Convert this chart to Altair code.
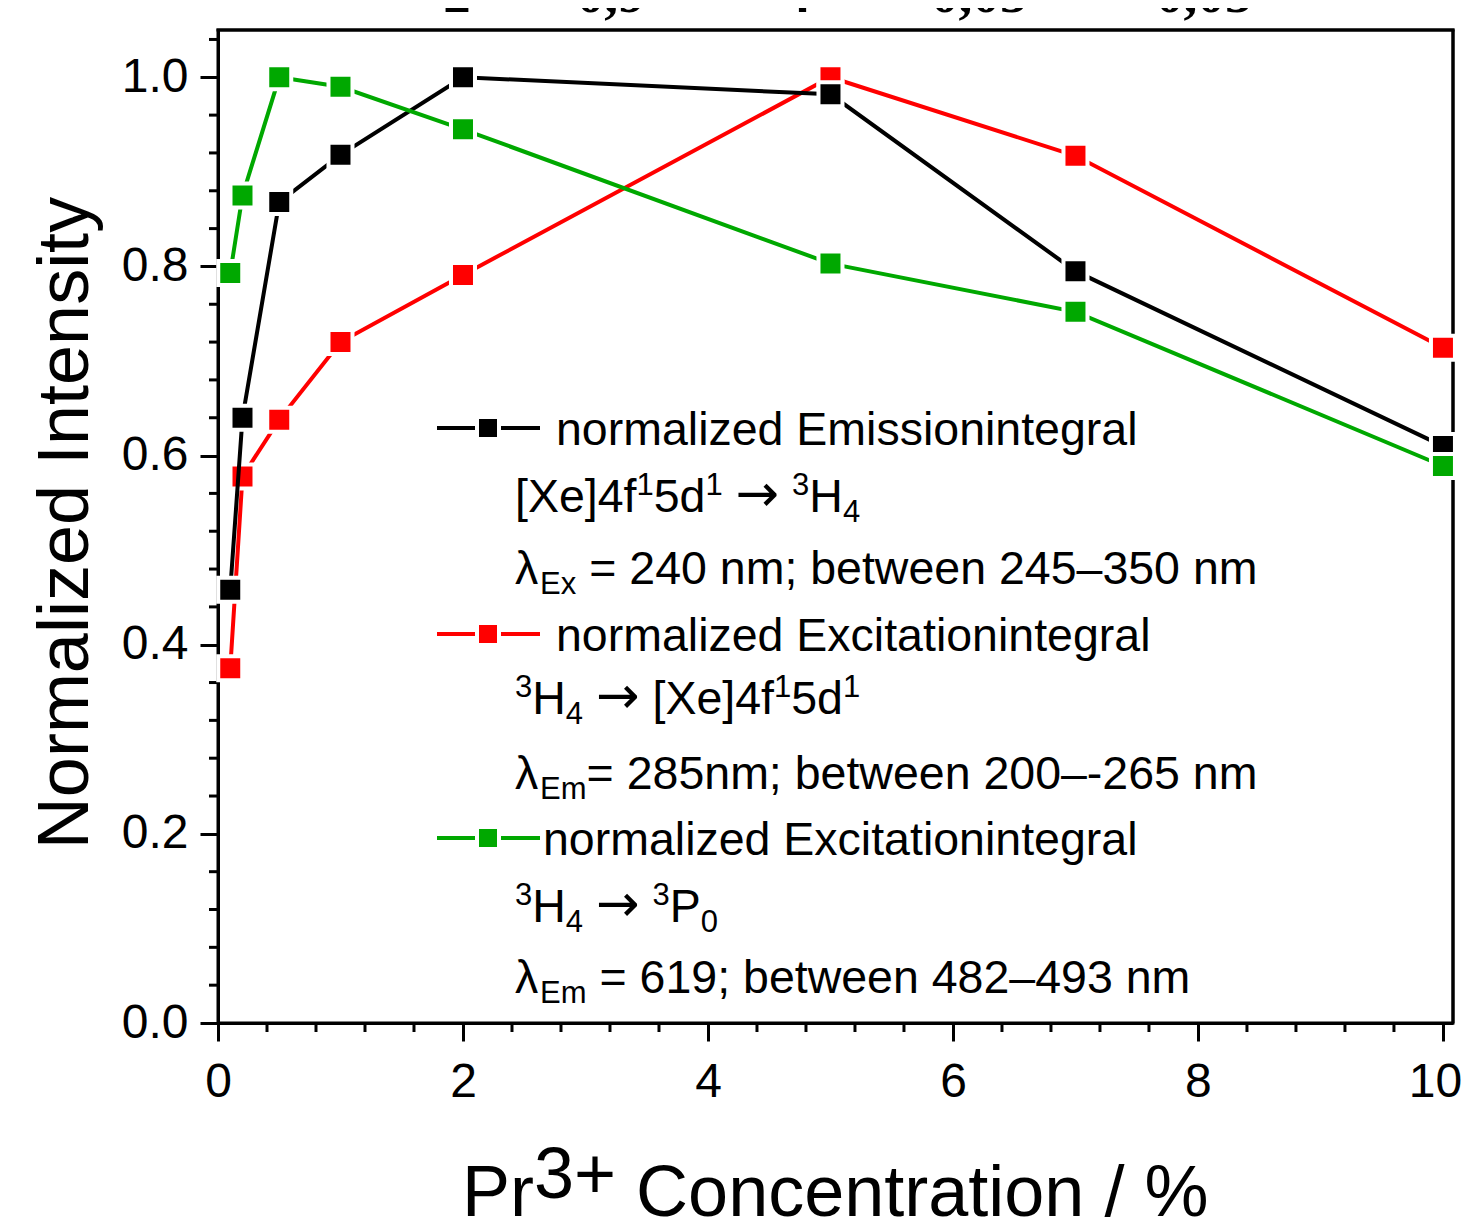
import altair as alt
import pandas as pd

# ---------------- data ----------------
conc = [0.1, 0.2, 0.5, 1, 2, 5, 7, 10]
emission = [0.458, 0.640, 0.868, 0.918, 1.000, 0.982, 0.795, 0.610]
excitation_5d = [0.375, 0.578, 0.638, 0.720, 0.791, 1.000, 0.917, 0.714]
excitation_3p0 = [0.793, 0.875, 1.000, 0.990, 0.945, 0.803, 0.752, 0.589]

x_major = [0, 2, 4, 6, 8, 10]
y_major = [0.0, 0.2, 0.4, 0.6, 0.8, 1.0]
x_minor = [0.4, 0.8, 1.2, 1.6, 2.4, 2.8, 3.2, 3.6, 4.4, 4.8, 5.2, 5.6,
           6.4, 6.8, 7.2, 7.6, 8.4, 8.8, 9.2, 9.6]
y_minor = [0.04, 0.08, 0.12, 0.16, 0.24, 0.28, 0.32, 0.36, 0.44, 0.48, 0.52, 0.56,
           0.64, 0.68, 0.72, 0.76, 0.84, 0.88, 0.92, 0.96, 1.04]

top_labels = ["2", "0,9", "4", "0,05", "0,05"]

# ---------------- layout ----------------
W, H = 1235, 993
OX, OY = 218, 30          # page position of plot origin
SVG_W, SVG_H = 1454, 1214
FONT = "Liberation Sans"
ARROW_FONT = "DejaVu Sans"
BLACK, RED, GREEN = "#000000", "#FF0000", "#00A800"

xs = alt.Scale(domain=[0, 10.082], nice=False, zero=False)
ys = alt.Scale(domain=[0, 1.05], nice=False, zero=False)

xaxis = alt.Axis(values=x_major, format="d", title=None, labelFont=FONT, labelFontSize=48,
                 labelColor="black", tickSize=18, tickWidth=3, tickColor="black",
                 domainColor="black", domainWidth=3, labelPadding=17, grid=False,
                 labelFlush=False, labelOverlap=False,
                 labelOffset={"condition": {"test": "datum.value == 10", "value": -8},
                              "value": 0})
yaxis = alt.Axis(values=y_major, format=".1f", title=None, labelFont=FONT, labelFontSize=48,
                 labelColor="black", tickSize=18, tickWidth=3, tickColor="black",
                 domainColor="black", domainWidth=3, labelPadding=12, grid=False,
                 labelFlush=False, labelOverlap=False)

dummy = pd.DataFrame({"a": [0]})
layers = []

# minor ticks
layers.append(
    alt.Chart(pd.DataFrame({"t": x_minor})).mark_rule(color="black", strokeWidth=3).encode(
        x=alt.X("t:Q", scale=xs, axis=xaxis), y=alt.value(H), y2=alt.value(H + 9))
)
layers.append(
    alt.Chart(pd.DataFrame({"t": y_minor})).mark_rule(color="black", strokeWidth=3).encode(
        y=alt.Y("t:Q", scale=ys, axis=yaxis), x=alt.value(0), x2=alt.value(-9))
)

# frame (top and right)
layers.append(alt.Chart(dummy).mark_rule(color="black", strokeWidth=3).encode(
    x=alt.value(-1.5), x2=alt.value(W + 1.5), y=alt.value(0)))
layers.append(alt.Chart(dummy).mark_rule(color="black", strokeWidth=3).encode(
    x=alt.value(W), y=alt.value(0), y2=alt.value(H)))

# series (red, black, green drawing order)
for vals, col in [(excitation_5d, RED), (emission, BLACK), (excitation_3p0, GREEN)]:
    df = pd.DataFrame({"c": conc, "v": vals})
    base = alt.Chart(df).encode(x=alt.X("c:Q", scale=xs, axis=xaxis),
                                y=alt.Y("v:Q", scale=ys, axis=yaxis))
    layers.append(base.mark_line(color=col, strokeWidth=4))
    layers.append(base.mark_point(shape="square", filled=True, fill=col, stroke="white",
                                  strokeWidth=4, size=576, opacity=1))

# ---------------- text helpers ----------------
CW = {' ': 278, '[': 278, ']': 278, 'X': 667, 'e': 556, '4': 556, 'f': 278, '1': 556,
      '5': 556, 'd': 556, '3': 556, 'H': 722, 'λ': 540, 'E': 667, 'x': 500,
      '=': 584, '2': 556, '0': 556, 'n': 556, 'm': 833, ';': 278, 'b': 556, 't': 278,
      'w': 722, '–': 556, '6': 556, '9': 556, '8': 556, 'P': 667, '-': 333, 'o': 556,
      'r': 333, 'a': 556, 'l': 222, 'i': 222, 'z': 500, 'c': 500, 's': 500, 'g': 556,
      'C': 722, '/': 278, '%': 889, '+': 584}


def text_layer(txt, px, py, fs, **kw):
    return alt.Chart(dummy).mark_text(text=txt, font=kw.pop("font", FONT), fontSize=fs,
                                      align=kw.pop("align", "left"),
                                      baseline=kw.pop("baseline", "alphabetic"),
                                      color="black", **kw).encode(
        x=alt.value(px - OX), y=alt.value(py - OY))


def rich_line(segs, x0, base, fs=46.5, small=31, sup=-17, sub=10):
    out = []
    x = x0
    for txt, kind in segs:
        if kind == "arrow":
            # " → " drawn with a larger arrow glyph
            x += CW[" "] * fs / 1000.0
            out.append(text_layer("→", x, base - 1, 52, font=ARROW_FONT))
            x += 0.838 * 52 + CW[" "] * fs / 1000.0
            continue
        size = fs if kind == "n" else small
        dy = 0 if kind == "n" else (sup if kind == "sup" else sub)
        lead = len(txt) - len(txt.lstrip(" "))
        core = txt.strip(" ")
        out.append(text_layer(core, x + lead * CW[" "] * size / 1000.0, base + dy, size))
        x += sum(CW.get(ch, 556) for ch in txt) * size / 1000.0
    return out


def legend_symbol(col, yc):
    r = alt.Chart(dummy).mark_rule(color=col, strokeWidth=4).encode(
        x=alt.value(437 - OX), x2=alt.value(540 - OX), y=alt.value(yc - OY))
    p = alt.Chart(dummy).mark_point(shape="square", filled=True, fill=col, opacity=1,
                                    stroke="white", strokeWidth=4, size=484).encode(
        x=alt.value(488 - OX), y=alt.value(yc - OY))
    return [r, p]


# legend block 1
layers += legend_symbol(BLACK, 428)
layers += rich_line([("normalized Emissionintegral", "n")], 556, 445)
layers += rich_line([("[Xe]4f", "n"), ("1", "sup"), ("5d", "n"), ("1", "sup"), ("", "arrow"),
                     ("3", "sup"), ("H", "n"), ("4", "sub")], 515, 512)
layers += rich_line([("λ", "n"), ("Ex", "sub"), (" = 240 nm; between 245–350 nm", "n")], 515, 584)
# legend block 2
layers += legend_symbol(RED, 634)
layers += rich_line([("normalized Excitationintegral", "n")], 556, 651)
layers += rich_line([("3", "sup"), ("H", "n"), ("4", "sub"), ("", "arrow"), ("[Xe]4f", "n"),
                     ("1", "sup"), ("5d", "n"), ("1", "sup")], 515, 714)
layers += rich_line([("λ", "n"), ("Em", "sub"), ("= 285nm; between 200–-265 nm", "n")], 515, 789)
# legend block 3
layers += legend_symbol(GREEN, 838)
layers += rich_line([("normalized Excitationintegral", "n")], 543, 855)
layers += rich_line([("3", "sup"), ("H", "n"), ("4", "sub"), ("", "arrow"), ("3", "sup"),
                     ("P", "n"), ("0", "sub")], 515, 922)
layers += rich_line([("λ", "n"), ("Em", "sub"), (" = 619; between 482–493 nm", "n")], 515, 993)

# axis titles
layers += rich_line([("Pr", "n"), ("3+", "sup"), (" Concentration / %", "n")], 462, 1216,
                    fs=72, small=72, sup=-18)
layers.append(text_layer("Normalized Intensity", 88, 523, 72, angle=270, align="center"))

# clipped text at the very top
for lab, cx in zip(top_labels, [457, 611, 797, 979, 1204]):
    layers.append(text_layer(lab, cx, 12, 55, font="Liberation Serif", fontWeight="bold",
                             align="center"))

chart = alt.layer(*layers).properties(
    width=W, height=H,
    background="white",
    padding={"left": OX - 8, "top": OY - 8, "right": SVG_W - (OX - 8) - W,
             "bottom": SVG_H - (OY - 8) - H},
    autosize=alt.AutoSizeParams(type="none"),
).configure_view(stroke="black", strokeWidth=3)

chart.save("out.html", embed_options={"renderer": "svg", "actions": False})
